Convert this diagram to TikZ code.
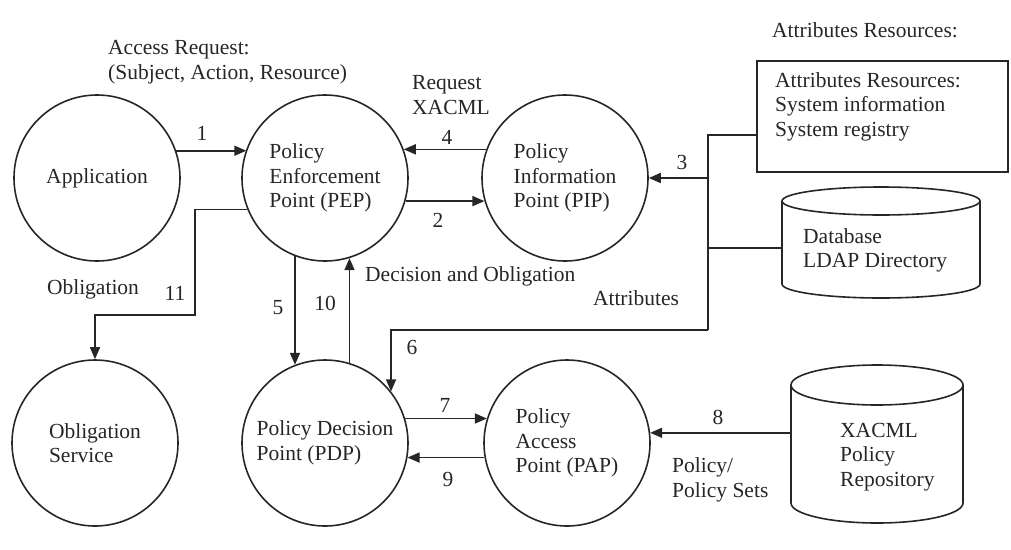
\documentclass[tikz,border=0pt]{standalone}
\usepackage{fontspec}
\setmainfont{Liberation Serif}
\usetikzlibrary{arrows.meta}
\definecolor{ink}{HTML}{262626}
\begin{document}
\begin{tikzpicture}[x=1pt,y=-1pt,
  every node/.style={font=\fontsize{21.5}{24.5}\selectfont, text=ink, inner sep=0pt},
  proc/.style={circle, draw=ink, line width=1.6pt, minimum size=166pt, align=left},
  link/.style={draw=ink, line width=1.6pt},
  flow/.style={link, -{Triangle[length=12pt,width=10pt]}},
  lbl/.style={anchor=west, align=left},
  ]
\useasboundingbox (0,0) rectangle (1011,549);

% processes
\node[proc] (app) at (97,178) {Application};
\node[proc] (pep) at (325,178) {Policy\\Enforcement\\Point (PEP)\vphantom{g}};
\node[proc] (pip) at (565,178) {Policy\\Information\\Point (PIP)\vphantom{g}};
\node[proc] (obs) at (95,443) {Obligation\\Service};
\node[proc] (pdp) at (325,443) {Policy Decision\\Point (PDP)};
\node[proc] (pap) at (567,443) {Policy\\Access\\Point (PAP)\vphantom{g}};

% attribute sources
\node (srctitle) at (865,30) {Attributes Resources:};
\node[draw=ink, line width=1.6pt, minimum width=251pt, minimum height=111pt] (attr) at (882.5,116.5) {};
\node[lbl, anchor=north west] (attrtxt) at (775,72) {Attributes Resources:\\System information\\System registry};

% database cylinder
\node[minimum width=198pt, minimum height=83pt] (db) at (881,242.5) {};
\draw[link] (782,201) -- (782,284) arc[start angle=180, end angle=360, x radius=99pt, y radius=14pt] -- (980,201);
\draw[link] (881,201) ellipse[x radius=99pt, y radius=14pt];
\node[lbl] (dbtxt) at (803,250.5) {Database\\LDAP Directory};

% policy repository cylinder
\node[minimum width=172pt, minimum height=118pt] (xacml) at (877,444) {};
\draw[link] (791,385) -- (791,503) arc[start angle=180, end angle=360, x radius=86pt, y radius=20pt] -- (963,385);
\draw[link] (877,385) ellipse[x radius=86pt, y radius=20pt];
\node[lbl] (xacmltxt) at (840,457) {XACML\\Policy\\Repository};

% attribute bus
\coordinate (busTop) at (708,135);
\coordinate (busDb) at (708,248);
\coordinate (busBot) at (708,330);
\draw[link] (busTop -| attr.west) -- (busTop) -- (busBot);
\draw[link] (busDb) -- (busDb -| db.west);

% flows
\draw[flow] (app.19.7) -- (pep.160.3 |- app.19.7);
\draw[flow] (pep.-16) -- (pip.196 |- pep.-16);
\draw[flow] (busTop |- pip.east) -- (pip.east);
\draw[flow] (pip.160) -- (pep.20 |- pip.160);
\draw[flow] (pep.-111) -- (pdp.111 -| pep.-111);
\draw[flow] (busBot) -| (pdp.38);
\draw[flow] (pdp.17) -- (pap.163 |- pdp.17);
\draw[flow] (xacml.west |- pap.7) -- (pap.7);
\draw[flow] (pap.190) -- (pdp.-10 |- pap.190);
\draw[flow] (pdp.73) -- (pep.-73 -| pdp.73);
\coordinate (c11) at (195,315);
\draw[flow] (pep.202) -| (c11) -| (obs.north);

% labels
\node[lbl] (reqlbl) at (108,62) {Access Request:\\(Subject, Action, Resource)};
\node[lbl] (xacmlreq) at (412,95) {Request\\XACML};
\node (n1) at (202,133) {1};
\node (n2) at (438,220) {2};
\node (n3) at (682,162) {3};
\node (n4) at (447,137) {4};
\node (n5) at (278,308) {5};
\node (n6) at (412,347) {6};
\node (n7) at (445,405) {7};
\node (n8) at (718,417) {8};
\node (n9) at (448,479) {9};
\node (n10) at (325,303) {10};
\node (n11) at (175,293) {11};
\node (obllbl) at (93,289) {Obligation};
\node[lbl] (declbl) at (365,276) {Decision and Obligation};
\node (attrlbl) at (636,298) {Attributes};
\node[lbl] (pollbl) at (672,480) {Policy/\\Policy Sets};
\end{tikzpicture}
\end{document}
